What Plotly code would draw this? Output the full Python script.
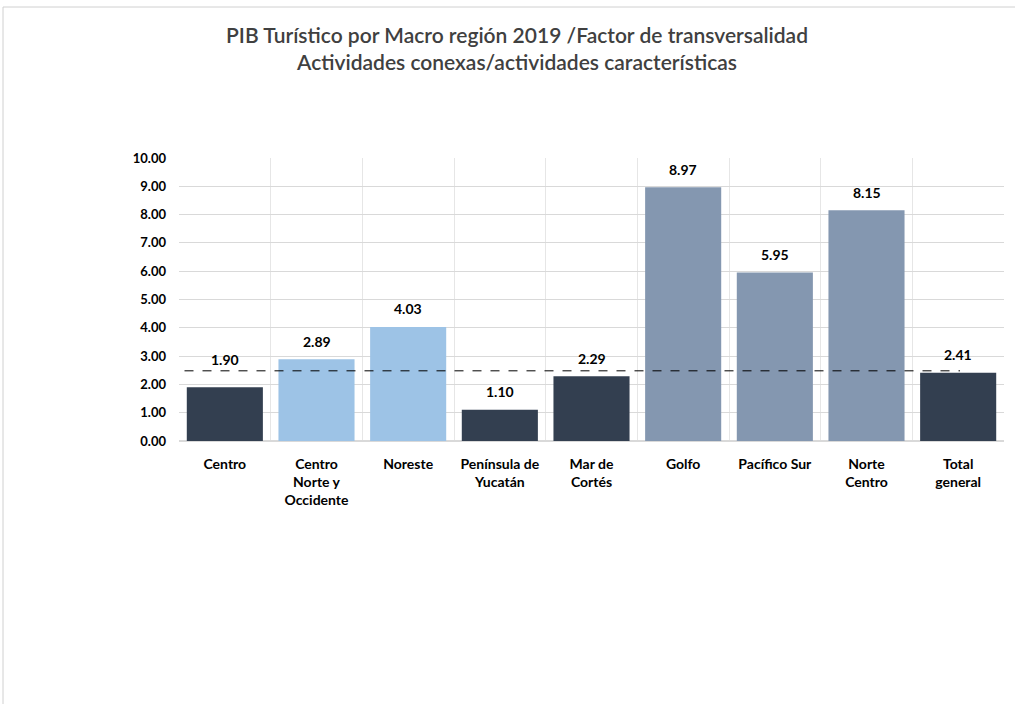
import plotly.graph_objects as go

categorias = ["Centro", "Centro<br>Norte y<br>Occidente", "Noreste", "Península de<br>Yucatán",
              "Mar de<br>Cortés", "Golfo", "Pacífico Sur", "Norte<br>Centro", "Total<br>general"]
factor = [1.90, 2.89, 4.03, 1.10, 2.29, 8.97, 5.95, 8.15, 2.41]
colores = ["#333F50", "#9DC3E6", "#9DC3E6", "#333F50", "#333F50",
           "#8497B0", "#8497B0", "#8497B0", "#333F50"]
referencia = 2.48

W, H = 1015, 704
L, R, T, B = 179, 11, 158, 263
pw, ph = W - L - R, H - T - B
px_por_unidad = ph / 10

fig = go.Figure()
fig.add_trace(go.Bar(
    x=categorias, y=factor, marker_color=colores, marker_line_width=0,
    width=0.83,
))

# etiquetas de valor sobre cada barra; si tocan la línea punteada, se suben por encima
for c, v in zip(categorias, factor):
    desplazamiento = 18
    distancia_linea = (referencia - v) * px_por_unidad - desplazamiento
    if abs(distancia_linea) < 11:
        desplazamiento = (referencia - v) * px_por_unidad + 11
    fig.add_annotation(x=c, y=v, text=f"<b>{v:.2f}</b>", showarrow=False,
                       yanchor="middle", yshift=desplazamiento,
                       font=dict(family="Lato", size=14, color="#000000"))

# línea de referencia punteada
fig.add_shape(type="line", xref="x", yref="y", x0=-0.44, x1=8.02,
              y0=referencia, y1=referencia,
              line=dict(color="#000000", width=1, dash="dash"))

# marco del gráfico
def px_x(p):
    return (p - L) / pw

def px_y(p):
    return (H - B - p) / ph

fig.add_shape(type="line", xref="paper", yref="paper",
              x0=px_x(3), x1=px_x(3), y0=px_y(7), y1=px_y(704),
              line=dict(color="#D0D0D0", width=1))
fig.add_shape(type="line", xref="paper", yref="paper",
              x0=px_x(3), x1=px_x(1015), y0=px_y(7), y1=px_y(7),
              line=dict(color="#D0D0D0", width=1))

fig.update_layout(
    width=W, height=H,
    margin=dict(l=L, r=R, t=T, b=B),
    paper_bgcolor="white", plot_bgcolor="white",
    showlegend=False,
    title=dict(
        text="PIB Turístico por Macro región 2019 /Factor de transversalidad<br>"
             "Actividades conexas/actividades características",
        x=px_x(517), xanchor="center", xref="paper",
        y=1 - 43 / H, yanchor="middle",
        font=dict(family="Lato", size=21, color="#404040", weight=600),
    ),
    bargap=0.17,
)
fig.update_xaxes(
    tickson="boundaries", showgrid=True, gridcolor="#E6E6E6", gridwidth=1,
    showline=False, ticks="", tickangle=0, ticklabelstandoff=13,
    tickfont=dict(family="Lato", size=14, color="#000000", weight="bold"),
)
fig.update_yaxes(
    range=[0, 10], dtick=1, tickformat=".2f",
    showgrid=True, gridcolor="#D9D9D9", gridwidth=1,
    zeroline=True, zerolinecolor="#D9D9D9",
    ticks="", ticklabelstandoff=12,
    tickfont=dict(family="Lato", size=13, color="#000000", weight="bold"),
)

fig.write_html("out.html")
